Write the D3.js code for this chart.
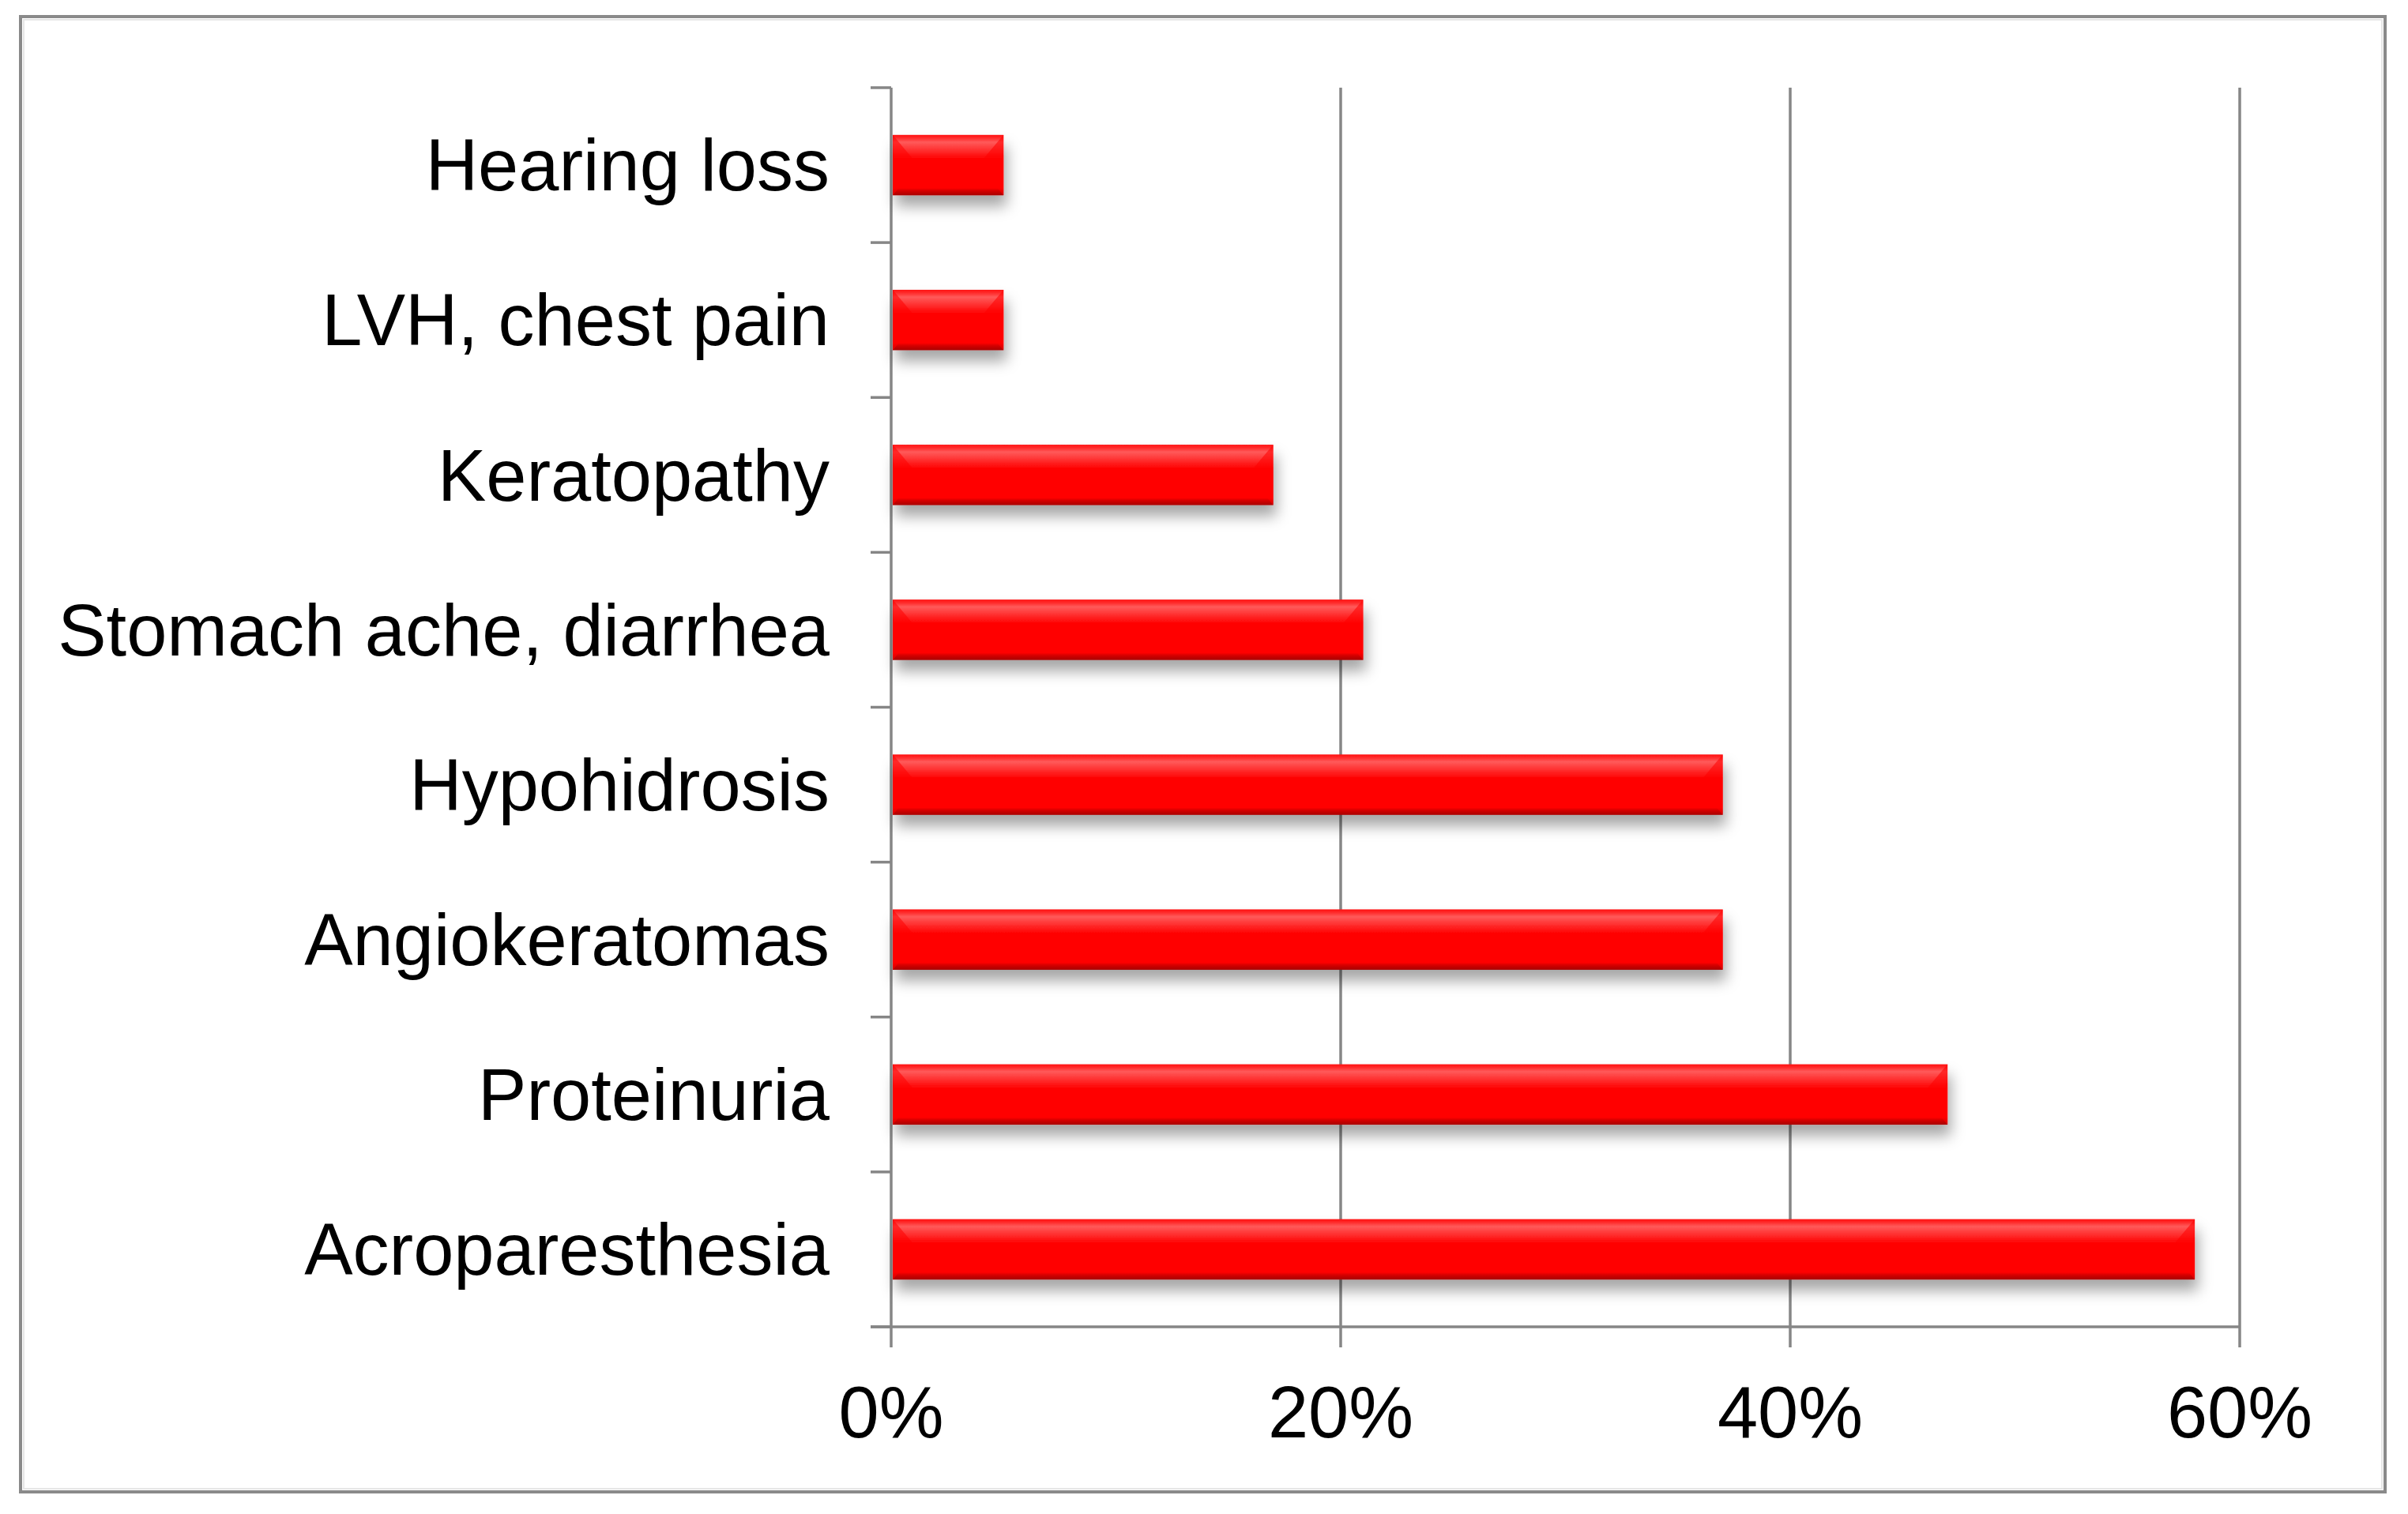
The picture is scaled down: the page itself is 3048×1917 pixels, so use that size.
<!DOCTYPE html>
<html>
<head>
<meta charset="utf-8">
<script src="https://cdn.jsdelivr.net/npm/d3@7"></script>
<style>
    html, body { margin: 0; padding: 0; background: #fff; }
    svg { display: block; }
</style>
</head>
<body>
<svg id="chart" width="3048" height="1917"></svg>
<script>
'use strict';

/* Data */

var categories = ["Hearing loss", "LVH, chest pain", "Keratopathy", "Stomach ache, diarrhea",
    "Hypohidrosis", "Angiokeratomas", "Proteinuria", "Acroparesthesia"];
var values = [5, 5, 17, 21, 37, 37, 47, 58];
var xTicks = [0, 20, 40, 60];

var svg = d3.select("#chart");
var defs = svg.append("defs");

// bevel-ish look for the bars
var grad = defs.append("linearGradient")
    .attr("id", "barGrad")
    .attr("x1", 0).attr("y1", 0).attr("x2", 0).attr("y2", 1);
grad.append("stop").attr("offset", "0%").attr("stop-color", "#ff1010");
grad.append("stop").attr("offset", "6%").attr("stop-color", "#ff3030");
grad.append("stop").attr("offset", "12%").attr("stop-color", "#ff5a5a");
grad.append("stop").attr("offset", "30%").attr("stop-color", "#ff2020");
grad.append("stop").attr("offset", "40%").attr("stop-color", "#ff0000");
grad.append("stop").attr("offset", "88%").attr("stop-color", "#ff0000");
grad.append("stop").attr("offset", "92%").attr("stop-color", "#d80000");
grad.append("stop").attr("offset", "100%").attr("stop-color", "#a80000");

var shadow = defs.append("filter")
    .attr("id", "barShadow")
    .attr("x", "-10%").attr("y", "-30%").attr("width", "130%").attr("height", "180%");
shadow.append("feDropShadow")
    .attr("dx", 4).attr("dy", 14).attr("stdDeviation", 9)
    .attr("flood-color", "#000").attr("flood-opacity", 0.35);

// outer frame
svg.append("rect")
    .attr("x", 26).attr("y", 21).attr("width", 2993).attr("height", 1868)
    .attr("fill", "#fff").attr("stroke", "#8a8a8a").attr("stroke-width", 4);
svg.append("rect")
    .attr("x", 30).attr("y", 25).attr("width", 2985).attr("height", 1860)
    .attr("fill", "none").attr("stroke", "#e6e6e6").attr("stroke-width", 2);

var plot = { left: 1128, right: 2835, top: 111, bottom: 1680 };

var x = d3.scaleLinear().domain([0, 60]).range([plot.left, plot.right]);
var y = d3.scaleBand().domain(categories)
    .range([plot.top, plot.bottom])
    .paddingInner(0.61).paddingOuter(0.305);

var axisColor = "#868686";
var tickLen = 26;

// vertical gridlines (they run down through the axis as ticks)
svg.append("g").selectAll("line")
    .data(xTicks)
    .enter().append("line")
    .attr("x1", function (d) { return x(d); })
    .attr("x2", function (d) { return x(d); })
    .attr("y1", plot.top)
    .attr("y2", plot.bottom + tickLen)
    .attr("stroke", axisColor)
    .attr("stroke-width", 3.5);

// x axis line
svg.append("line")
    .attr("x1", plot.left - tickLen).attr("x2", plot.right)
    .attr("y1", plot.bottom).attr("y2", plot.bottom)
    .attr("stroke", axisColor).attr("stroke-width", 3.5);

// y ticks on the band boundaries
var bounds = categories.map(function (c) {
    return y(c) - y.step() * y.paddingInner() / 2;
});
bounds.push(plot.bottom);
svg.append("g").selectAll("line")
    .data(bounds)
    .enter().append("line")
    .attr("x1", plot.left - tickLen).attr("x2", plot.left)
    .attr("y1", function (d) { return d; })
    .attr("y2", function (d) { return d; })
    .attr("stroke", axisColor).attr("stroke-width", 3.5);

// bars
svg.append("g").selectAll("rect")
    .data(categories)
    .enter().append("rect")
    .attr("x", x(0) + 2)
    .attr("y", function (d) { return y(d); })
    .attr("width", function (d, i) { return x(values[i]) - x(0) - 2; })
    .attr("height", y.bandwidth())
    .attr("fill", "url(#barGrad)")
    .attr("filter", "url(#barShadow)");

// bevel corners on the bar ends
svg.append("g").selectAll("path")
    .data(categories)
    .enter().append("path")
    .attr("d", function (d, i) {
        var x0 = x(0) + 2, x1 = x(values[i]), y0 = y(d), h = y.bandwidth();
        var b = h * 0.42;
        return "M" + x0 + "," + y0 + "L" + (x0 + b) + "," + (y0 + h / 2) + "L" + x0 + "," + (y0 + h) + "Z" +
            "M" + x1 + "," + y0 + "L" + (x1 - b) + "," + (y0 + h / 2) + "L" + x1 + "," + (y0 + h) + "Z";
    })
    .attr("fill", "#ff0000")
    .attr("opacity", 0.55);

// category labels
svg.append("g").selectAll("text")
    .data(categories)
    .enter().append("text")
    .attr("x", 1050)
    .attr("y", function (d) { return y(d) + y.bandwidth() / 2; })
    .attr("dy", "0.35em")
    .attr("text-anchor", "end")
    .attr("font-family", "Liberation Sans, Arial, sans-serif")
    .attr("font-size", 92)
    .attr("fill", "#000")
    .text(function (d) { return d; });

// x tick labels
svg.append("g").selectAll("text")
    .data(xTicks)
    .enter().append("text")
    .attr("x", function (d) { return x(d); })
    .attr("y", 1820)
    .attr("text-anchor", "middle")
    .attr("font-family", "Liberation Sans, Arial, sans-serif")
    .attr("font-size", 92)
    .attr("fill", "#000")
    .text(function (d) { return d + "%"; });
</script>
</body>
</html>
